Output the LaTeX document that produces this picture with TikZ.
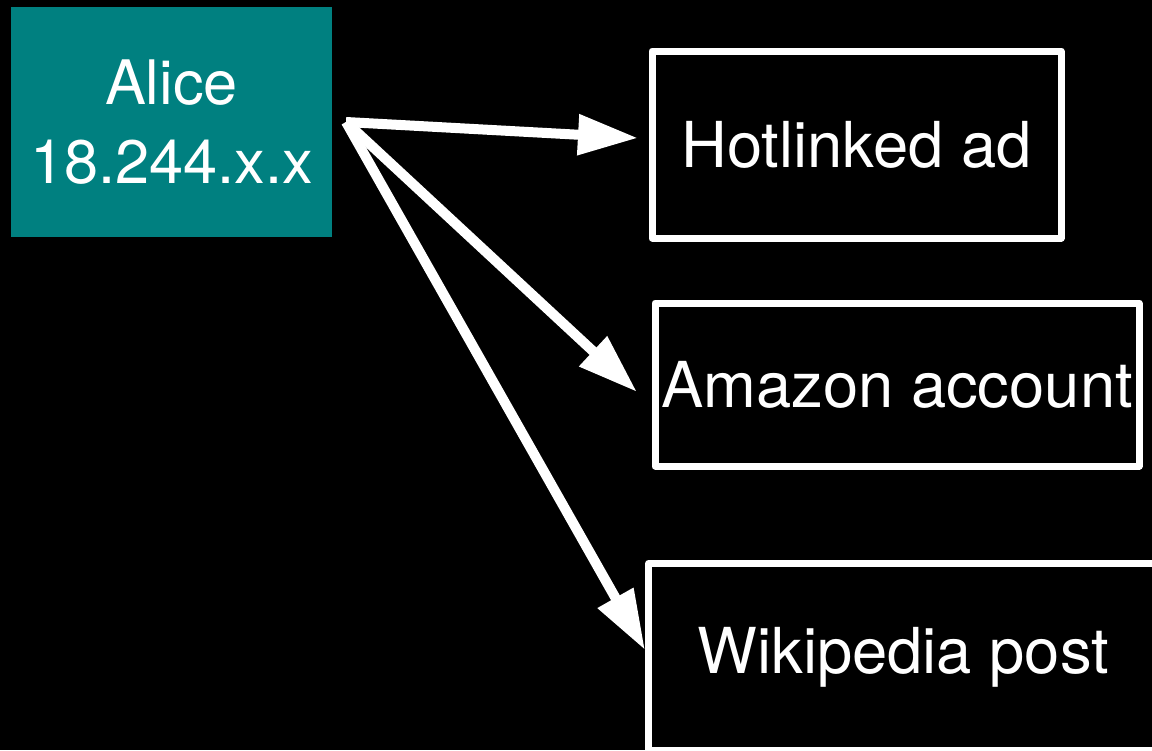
\documentclass[tikz,border=0pt]{standalone}
\usepackage{fontspec}
\setmainfont{TeX Gyre Heros}
\usetikzlibrary{arrows.meta}

\definecolor{aliceteal}{RGB}{0,128,128}

\tikzset{every picture/.style={line width=0.75pt}}
\tikzset{
  label text/.style={text=white, font=\fontsize{47.5}{59}\selectfont, align=center, inner sep=0pt},
  target box/.style={label text, draw=white, line width=5.25pt, line join=round, rectangle},
  link/.style={draw=white, line width=7.5pt, line join=miter, -{Triangle[length=45pt,width=29pt]}}
}

\begin{document}
\begin{tikzpicture}[x=0.75pt,y=0.75pt,yscale=-1,xscale=1]
	%background, sets the page at 1152 x 750
	\fill[black] (0,0) rectangle (1152,750);
	\useasboundingbox (0,0) rectangle (1152,750);

	% Source node
	\node[label text, font=\fontsize{46}{59}\selectfont, fill=aliceteal, minimum width=240.75pt, minimum height=172.5pt] (alice) at (171.5,122) {Alice\\18.244.x.x};

	% Target nodes
	\node[target box, minimum width=306.75pt, minimum height=140.25pt] (hotlink) at (856.5,144.5) {Hotlinked ad};
	\node[target box, minimum width=363pt, minimum height=122.25pt] (amazon) at (897,384.5) {Amazon account};
	\node[target box, minimum width=382pt, minimum height=140.6pt] (wiki) at (903.25,657.25) {Wikipedia post};

	% Arrow ends
	\coordinate (src) at (346,122);
	\coordinate (tipHot) at (638,138);
	\coordinate (tipAmz) at (637,392);
	\coordinate (tipWiki) at (645,650);

	% Arrows
	\draw[link] (src) -- (tipHot);
	\draw[link] (src) -- (tipAmz);
	\draw[link] (src) -- (tipWiki);

\end{tikzpicture}
\end{document}
